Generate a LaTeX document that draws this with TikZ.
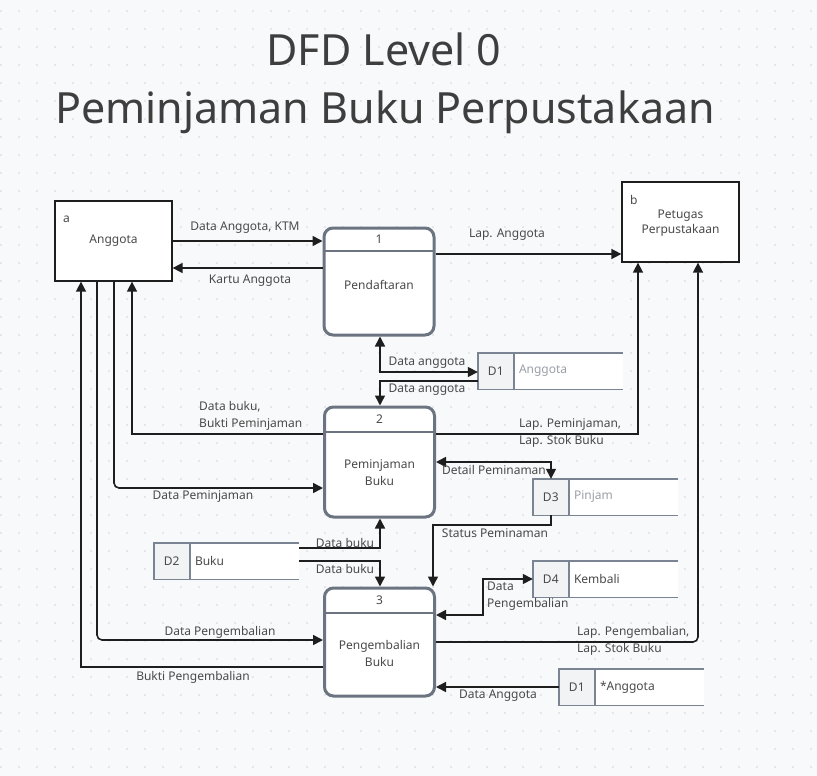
\documentclass[tikz,border=0pt]{standalone}
\usepackage{fontspec}
\setmainfont{Noto Sans}
\usetikzlibrary{arrows.meta,calc}
\definecolor{bg}{HTML}{F8F9FA}
\definecolor{dotc}{HTML}{D3D6DA}
\definecolor{pborder}{HTML}{6B7480}
\definecolor{sborder}{HTML}{7A8492}
\definecolor{txt}{HTML}{4A4A4A}
\definecolor{ttl}{HTML}{3E3E3E}
\definecolor{sfill}{HTML}{F2F3F5}
\definecolor{lighttxt}{HTML}{9AA0A8}
\definecolor{arr}{HTML}{1E1E1E}
\newcommand\dstore[5]{%
  \node[store] (#1) at (#2) {};
  \fill[sfill] (#1.north west) rectangle ($(#1.south west)+(36,0)$);
  \draw[sline] (#1.north east) -- (#1.north west) -- (#1.south west) -- (#1.south east);
  \draw[sline] ($(#1.north west)+(36,0)$) -- ($(#1.south west)+(36,0)$);
  \node[txtn] (#1id) at ($(#1.west)+(18,0)$) {#3};
  \node[txtn, anchor=west, text=#5] (#1lb) at ($(#1.west)+(40,0)$) {#4};
}
\begin{document}
\begin{tikzpicture}[x=1pt,y=-1pt,
  font=\fontsize{12}{17}\selectfont,
  ext/.style={draw=arr, line width=1.3pt, fill=white, minimum width=117pt, minimum height=80pt, inner sep=0pt},
  proc/.style={draw=pborder, line width=3pt, rounded corners=9pt, fill=white, minimum width=110pt, inner sep=0pt},
  store/.style={minimum width=145pt, minimum height=36pt, inner sep=0pt, fill=white},
  sline/.style={draw=sborder, line width=1.4pt},
  txtn/.style={text=txt, inner sep=1pt},
  lbl/.style={text=txt, inner sep=1pt, align=left},
  flow/.style={draw=arr, line width=1.6pt, -{Triangle[length=10pt,width=10pt]}},
  flowboth/.style={draw=arr, line width=1.6pt, {Triangle[length=10pt,width=10pt]}-{Triangle[length=10pt,width=10pt]}},
]
\useasboundingbox (0,0) rectangle (817,776);
\fill[bg] (0,0) rectangle (817,776);
\foreach \i in {0,...,45}{\foreach \j in {0,...,42}{\fill[dotc] (1+18*\i,11+18*\j) circle (0.8pt);}}

% title
\node[text=ttl, anchor=base, font=\fontsize{43}{50}\selectfont] (t1) at (384,66) {DFD Level 0};
\node[text=ttl, anchor=base, font=\fontsize{43}{50}\selectfont] (t2) at (385,124) {Peminjaman Buku Perpustakaan};

% x / y helper coordinates
\foreach \v in {81,97,114,132,380,433,483,551,638,698}{\coordinate (x\v) at (\v,0);}
\foreach \v in {254,268,372,381,434,462,488,525,548,561,615,640,642,667}{\coordinate (y\v) at (0,\v);}

% externals
\node[ext] (a) at (113.5,241) {};
\node[txtn] (alab) at (a.center) {Anggota};
\node[txtn, anchor=base west] (aid) at (62,222) {a};
\node[ext] (b) at (680.5,222) {};
\node[txtn, align=center] (blab) at ($(b.center)+(0,1)$) {Petugas\\[-2pt]Perpustakaan};
\node[txtn, anchor=base west] (bid) at (629,204) {b};

% processes
\node[proc, minimum height=107pt] (p1) at (379,281.5) {};
\draw[pborder, line width=2pt] ($(p1.north west)+(1.5,24)$) -- ($(p1.north east)+(-1.5,24)$);
\node[txtn] (p1n) at ($(p1.north)+(0,13)$) {1};
\node[txtn] (p1t) at ($(p1.center)+(0,3.5)$) {Pendaftaran};

\node[proc, minimum height=110pt] (p2) at (379.5,462) {};
\draw[pborder, line width=2pt] ($(p2.north west)+(1.5,26)$) -- ($(p2.north east)+(-1.5,26)$);
\node[txtn] (p2n) at ($(p2.north)+(0,14)$) {2};
\node[txtn, align=center] (p2t) at ($(p2.center)+(0,11)$) {Peminjaman\\Buku};

\node[proc, minimum height=108pt] (p3) at (379.5,642) {};
\draw[pborder, line width=2pt] ($(p3.north west)+(1.5,26)$) -- ($(p3.north east)+(-1.5,26)$);
\node[txtn] (p3n) at ($(p3.north)+(0,14)$) {3};
\node[txtn, align=center] (p3t) at ($(p3.center)+(0,11.5)$) {Pengembalian\\Buku};

% data stores
\dstore{d1}{550.5,371}{D1}{Anggota}{lighttxt}
\dstore{d3}{605.5,497}{D3}{Pinjam}{lighttxt}
\dstore{d4}{605.5,579}{D4}{Kembali}{txt}
\dstore{d2}{226.5,561}{D2}{Buku}{txt}
\dstore{d1b}{631.5,687}{D1}{*Anggota}{txt}

% flows
\draw[flow] (a.east) -- (a.east -| p1.west);
\draw[flow] (p1.west |- y268) -- (a.east |- y268);
\draw[flow] (p1.east |- y254) -- (b.west |- y254);
\draw[flowboth] (x380 |- p1.south) -- (x380 |- y372) -- (d1.west |- y372);
\draw[flow] (d1.west |- y381) -- (x380 |- y381) -- (x380 |- p2.north);
\draw[flow] (p2.west |- y434) -- (x132 |- y434) -- (x132 |- a.south);
\draw[flow] (p2.east |- y434) -- (x638 |- y434) -- (x638 |- b.south);
\draw[flow, rounded corners=5pt] (x114 |- a.south) -- (x114 |- y488) -- (p2.west |- y488);
\draw[flowboth] (p2.east |- y462) -- (x551 |- y462) -- (x551 |- d3.north);
\draw[flow] (x551 |- d3.south) -- (x551 |- y525) -- (x433 |- y525) -- (x433 |- p3.north);
\draw[flowboth] (p3.east |- y615) -- (x483 |- y615) -- (x483 |- d4.west) -- (d4.west);
\draw[flow, rounded corners=5pt] (p3.east |- y642) -- (x698 |- y642) -- (x698 |- b.south);
\draw[flow] (d1b.west) -- (p3.east |- d1b.west);
\draw[flow] (d2.east |- y548) -- (x380 |- y548) -- (x380 |- p2.south);
\draw[flow] (d2.east |- y561) -- (x380 |- y561) -- (x380 |- p3.north);
\draw[flow, rounded corners=5pt] (x97 |- a.south) -- (x97 |- y640) -- (p3.west |- y640);
\draw[flow] (p3.west |- y667) -- (x81 |- y667) -- (x81 |- a.south);

% labels
\node[lbl] (l1) at (245,228) {Data Anggota, KTM};
\node[lbl] (l2) at (250,281) {Kartu Anggota};
\node[lbl] (l3) at (507,235) {Lap. Anggota};
\node[lbl] (l4) at (427,363) {Data anggota};
\node[lbl] (l5) at (427,390) {Data anggota};
\node[lbl, anchor=west] (l6) at (198,415.5) {Data buku,\\Bukti Peminjaman};
\node[lbl, anchor=west] (l7) at (518,433) {Lap. Peminjaman,\\Lap. Stok Buku};
\node[lbl] (l8) at (203,497) {Data Peminjaman};
\node[lbl] (l9) at (494,470) {Detail Peminaman};
\node[lbl] (l10) at (495,533) {Status Peminaman};
\node[lbl, anchor=west] (l11) at (486,596) {Data\\Pengembalian};
\node[lbl] (l12) at (345,543) {Data buku};
\node[lbl] (l13) at (345,569) {Data buku};
\node[lbl] (l14) at (220,632) {Data Pengembalian};
\node[lbl, anchor=west] (l15) at (576,641) {Lap. Pengembalian,\\Lap. Stok Buku};
\node[lbl] (l16) at (193,677) {Bukti Pengembalian};
\node[lbl] (l17) at (498,696) {Data Anggota};
\end{tikzpicture}
\end{document}
